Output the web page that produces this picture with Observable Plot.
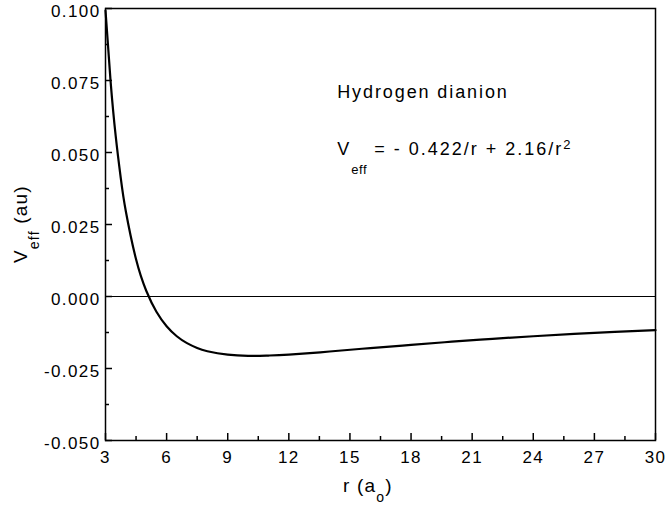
<!DOCTYPE html>
<html><head><meta charset="utf-8">
<script src="https://cdn.jsdelivr.net/npm/d3@7"></script>
<script src="https://cdn.jsdelivr.net/npm/@observablehq/plot@0.6"></script>
<style>body{margin:0;background:#fff}</style>
</head><body><div id="chart"></div>
<script>
// Values
const rValues = [3, 3.25, 3.5, 3.75, 4, 4.5, 5, 5.5, 6, 6.5, 7, 7.5, 8, 9, 10, 11, 12, 14, 16, 18, 20, 22, 24, 26, 28, 30];
const vValues = [0.0993, 0.0747, 0.0558, 0.0411, 0.0295, 0.0129, 0.0020, -0.0053, -0.0103, -0.0138, -0.0162, -0.0179, -0.0190, -0.0202, -0.0206, -0.0205, -0.0202, -0.0191, -0.0179, -0.0168, -0.0157, -0.0147, -0.0138, -0.0130, -0.0123, -0.0117];
const xMajorTicks = [3, 6, 9, 12, 15, 18, 21, 24, 27, 30];
const xMinorTicks = [4.5, 7.5, 10.5, 13.5, 16.5, 19.5, 22.5, 25.5, 28.5];
const yMajorTicks = [-0.05, -0.025, 0, 0.025, 0.05, 0.075, 0.1];
const yMinorTicks = [-0.0375, -0.0125, 0.0125, 0.0375, 0.0625, 0.0875];
const titleText = "Hydrogen dianion";

const W = 667, H = 506, mL = 105, mT = 8, mR = 12, mB = 66;
const plotH = H - mT - mB, plotW = W - mL - mR;
const data = rValues.map((r, i) => ({r, v: vValues[i]}));
const font = "'Liberation Sans', Arial, Helvetica, sans-serif";

const chart = Plot.plot({
  width: W, height: H,
  marginLeft: mL, marginTop: mT, marginRight: mR, marginBottom: mB,
  style: {fontFamily: font, fontSize: "17px", background: "#fff", color: "#000", overflow: "visible", letterSpacing: "1.4px"},
  x: {domain: [3, 30]},
  y: {domain: [-0.05, 0.1]},
  marks: [
    Plot.axisX(xMajorTicks, {tickSize: 0, tickPadding: 10, label: null, tickFormat: d => String(d), fill: "#000"}),
    Plot.axisY(yMajorTicks, {tickSize: 0, tickPadding: 5, label: null, tickFormat: d => d.toFixed(3), fill: "#000", dy: 3}),
    Plot.ruleY([0], {stroke: "#000", strokeWidth: 1.1}),
    Plot.tickX(xMajorTicks, {x: d => d, insetTop: plotH - 7, stroke: "#000", strokeWidth: 1.5}),
    Plot.tickX(xMinorTicks, {x: d => d, insetTop: plotH - 4, stroke: "#000", strokeWidth: 1.5}),
    Plot.tickY(yMajorTicks, {y: d => d, insetRight: plotW - 7, stroke: "#000", strokeWidth: 1.5}),
    Plot.tickY(yMinorTicks, {y: d => d, insetRight: plotW - 4, stroke: "#000", strokeWidth: 1.5}),
    Plot.line(data, {x: "r", y: "v", curve: "natural", stroke: "#000", strokeWidth: 2.2}),
    Plot.frame({stroke: "#000", strokeWidth: 1.5})
  ]
});
document.getElementById("chart").appendChild(chart);

const svg = d3.select(chart);
const xs = chart.scale("x"), ys = chart.scale("y");

// Annotation
svg.append("text")
  .attr("x", xs.apply(14.4)).attr("y", ys.apply(0.0688))
  .attr("text-anchor", "start")
  .attr("font-family", font).attr("font-size", 18).attr("letter-spacing", "1.9px").attr("fill", "#000")
  .text(titleText);

const f = svg.append("text")
  .attr("x", xs.apply(14.4)).attr("y", ys.apply(0.049))
  .attr("text-anchor", "start")
  .attr("font-family", font).attr("font-size", 18).attr("letter-spacing", "2px").attr("fill", "#000");
f.append("tspan").text("V");
f.append("tspan").attr("dy", 19).attr("font-size", 13).attr("letter-spacing", "0.6px").text("eff");
f.append("tspan").attr("dy", -19).text(" = - 0.422/r + 2.16/r");
f.append("tspan").attr("dy", -6).attr("font-size", 13).attr("letter-spacing", "0px").text("2");

// Axis labels
const xl = svg.append("text")
  .attr("x", 343).attr("y", 492)
  .attr("text-anchor", "start")
  .attr("font-family", font).attr("font-size", 19).attr("letter-spacing", "1.2px").attr("fill", "#000");
xl.append("tspan").text("r (a");
xl.append("tspan").attr("dy", 10).attr("font-size", 14).text("o");
xl.append("tspan").attr("dy", -10).text(")");

const yl = svg.append("text")
  .attr("transform", "translate(27,263) rotate(-90)")
  .attr("text-anchor", "start")
  .attr("font-family", font).attr("font-size", 19).attr("letter-spacing", "1.2px").attr("fill", "#000");
yl.append("tspan").text("V");
yl.append("tspan").attr("dy", 12).attr("font-size", 14).text("eff");
yl.append("tspan").attr("dy", -12).text(" (au)");
</script>
</body></html>
